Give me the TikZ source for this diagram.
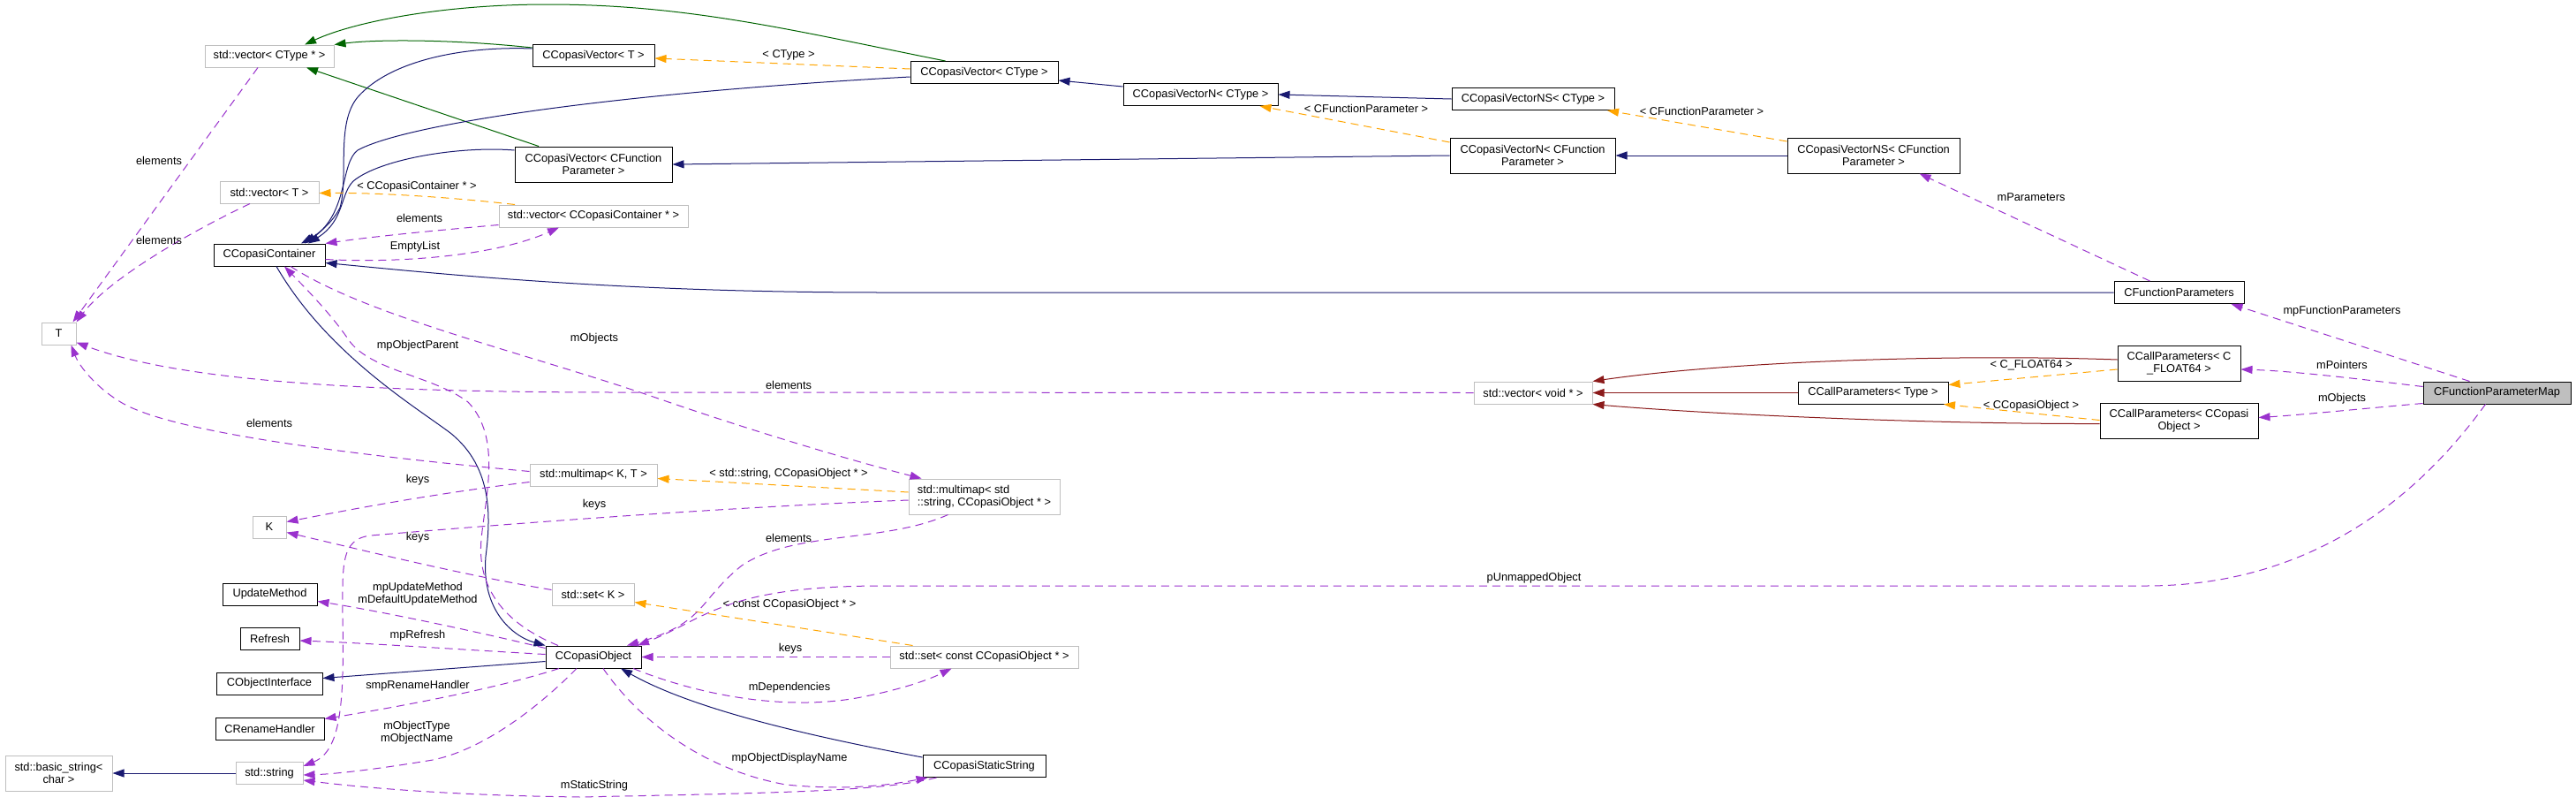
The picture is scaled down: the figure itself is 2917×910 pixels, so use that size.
\documentclass[tikz,border=0pt]{standalone}
\usepackage{fontspec}
\setmainfont{Liberation Sans}
\usepackage{xcolor}
\usepackage{tikz}
\usetikzlibrary{arrows.meta}

\definecolor{navyline}{HTML}{191970}
\definecolor{protline}{HTML}{006400}
\definecolor{privline}{HTML}{8B1A1A}
\definecolor{useline}{HTML}{9A32CD}
\definecolor{tmplline}{HTML}{FFA500}
\definecolor{boxgray}{HTML}{BFBFBF}
\newcommand{\dxfont}{\fontsize{12.8}{14}\selectfont}

\tikzset{
  cls/.style={draw=black, line width=1pt, fill=white, minimum height=25, inner xsep=0pt, inner ysep=0pt, font=\dxfont, align=center},
  ext/.style={cls, draw=boxgray},
  focus/.style={cls, fill=boxgray},
  lbl/.style={font=\dxfont, inner sep=0pt, align=center},
  tip/.style={-{Triangle[length=13pt,width=9pt]}},
  pub/.style={tip, draw=navyline, line width=1pt},
  prot/.style={tip, draw=protline, line width=1pt},
  priv/.style={tip, draw=privline, line width=1pt},
  uses/.style={tip, draw=useline, line width=1pt, dash pattern=on 9pt off 6pt},
  tmpl/.style={tip, draw=tmplline, line width=1pt, dash pattern=on 9pt off 6pt}
}

\begin{document}
\begin{tikzpicture}[x=1pt,y=-1pt]
\fill[white] (0,0) rectangle (2917,910);
\useasboundingbox (0,0) rectangle (2917,910);

\node[ext, minimum width=146] (vecCT) at (305,63.5) {std::vector< CType * >};
\node[ext, minimum width=112] (vecT) at (305,217.5) {std::vector< T >};
\node[cls, minimum width=126] (ccont) at (305,288.5) {CCopasiContainer};
\node[ext, minimum width=39] (tT) at (66.5,377.5) {T};
\node[cls, minimum width=138] (cvT) at (672,63) {CCopasiVector< T >};
\node[cls, minimum width=178, minimum height=40] (cvFP) at (672,186) {CCopasiVector< CFunction\\Parameter >};
\node[ext, minimum width=214] (vecCC) at (672,244.5) {std::vector< CCopasiContainer * >};
\node[cls, minimum width=167] (cvCT) at (1114.5,82) {CCopasiVector< CType >};
\node[cls, minimum width=175] (cvnCT) at (1359.5,107) {CCopasiVectorN< CType >};
\node[cls, minimum width=184] (cvnsCT) at (1736,112) {CCopasiVectorNS< CType >};
\node[cls, minimum width=187, minimum height=40] (cvnFP) at (1735.5,176) {CCopasiVectorN< CFunction\\Parameter >};
\node[cls, minimum width=195, minimum height=40] (cvnsFP) at (2121.5,176) {CCopasiVectorNS< CFunction\\Parameter >};
\node[cls, minimum width=147] (cfp) at (2467.5,331) {CFunctionParameters};
\node[cls, minimum width=139, minimum height=40] (cpF) at (2467.5,411) {CCallParameters< C\\\_FLOAT64 >};
\node[focus, minimum width=167] (cfpm) at (2827.5,444.5) {CFunctionParameterMap};
\node[cls, minimum width=179, minimum height=40] (cpO) at (2467.5,476.5) {CCallParameters< CCopasi\\Object >};
\node[ext, minimum width=134] (vecV) at (1736,444.5) {std::vector< void * >};
\node[cls, minimum width=170] (cpT) at (2121,444.5) {CCallParameters< Type >};
\node[ext, minimum width=38] (kK) at (305,596.5) {K};
\node[cls, minimum width=107] (upd) at (305.5,672.5) {UpdateMethod};
\node[cls, minimum width=67] (refr) at (305.5,723) {Refresh};
\node[cls, minimum width=120] (coi) at (305,773.5) {CObjectInterface};
\node[cls, minimum width=123] (cren) at (305.5,824.5) {CRenameHandler};
\node[ext, minimum width=121, minimum height=40] (bstr) at (66.5,875) {std::basic\_string<\\char >};
\node[ext, minimum width=76] (sstr) at (305,875) {std::string};
\node[ext, minimum width=144] (mmKT) at (672,537.5) {std::multimap< K, T >};
\node[ext, minimum width=93] (setK) at (671.5,672.5) {std::set< K >};
\node[cls, minimum width=108] (cobj) at (672,743.5) {CCopasiObject};
\node[ext, minimum width=171, minimum height=40, align=left] (mmSO) at (1114.5,562) {std::multimap< std\\::string, CCopasiObject * >};
\node[ext, minimum width=213] (setCO) at (1114.5,743.5) {std::set< const CCopasiObject * >};
\node[cls, minimum width=139] (css) at (1114.5,867) {CCopasiStaticString};

\draw[prot] ([xshift=-44]cvCT.north) .. controls (900,35) and (780,5) .. (620,5) .. controls (500,5) and (400,25) .. ([xshift=40]vecCT.north);
\draw[prot] ([yshift=9]cvT.west) .. controls (520,45) and (430,44) .. (vecCT.north east);
\draw[prot] ([xshift=-62]cvFP.north) -- ([xshift=42]vecCT.south);

\draw[pub] ([yshift=8]cvT.west) .. controls (520,52) and (440,70) .. (405,110) .. controls (380,140) and (395,200) .. (385,235) .. controls (375,255) and (355,268) .. ([xshift=36]ccont.north);
\draw[pub] ([yshift=-5]cvCT.west) .. controls (700,105) and (460,140) .. (405,170) .. controls (385,185) and (395,240) .. ([xshift=40]ccont.north);
\draw[pub] ([yshift=16]cvFP.west) .. controls (520,165) and (430,180) .. (400,205) .. controls (385,220) and (390,250) .. ([xshift=44]ccont.north);
\draw[pub] (cfp.west) -- (1000,331) .. controls (700,331) and (500,310) .. ([yshift=-9]ccont.east);
\draw[pub] ([xshift=8]ccont.south) .. controls (370,400) and (470,460) .. (510,490) .. controls (560,530) and (555,590) .. (550,630) .. controls (545,690) and (580,720) .. (cobj.north west);
\draw[pub] ([yshift=-5]cobj.west) -- ([yshift=6]coi.east);
\draw[pub] ([yshift=10]css.west) .. controls (900,830) and (780,800) .. ([xshift=31]cobj.south);
\draw[pub] (sstr.west) -- (bstr.east);
\draw[pub] ([yshift=9]cvnCT.west) -- ([yshift=-9]cvCT.east);
\draw[pub] (cvnsCT.west) -- (cvnCT.east);
\draw[pub] (cvnFP.west) -- (cvFP.east);
\draw[pub] (cvnsFP.west) -- (cvnFP.east);

\draw[priv] ([yshift=4]cpF.west) .. controls (2200,400) and (1950,410) .. (vecV.north east);
\draw[priv] (cpT.west) -- (vecV.east);
\draw[priv] ([yshift=-3]cpO.west) .. controls (2200,480) and (1950,470) .. (vecV.south east);

\draw[tmpl] ([yshift=4]cvCT.west) -- ([yshift=-3]cvT.east);
\node[lbl] (lCType) at (893,62) {< CType >};
\draw[tmpl] ([yshift=15]cvnFP.west) -- ([xshift=67]cvnCT.south);
\node[lbl] (lFPa) at (1547,123) {< CFunctionParameter >};
\draw[tmpl] ([yshift=16]cvnsFP.west) -- ([xshift=84]cvnsCT.south);
\node[lbl] (lFPb) at (1927,126) {< CFunctionParameter >};
\draw[tmpl] ([xshift=-89]vecCC.north) .. controls (500,222) and (420,218) .. ([yshift=-1]vecT.east);
\node[lbl] (lCC) at (472,211) {< CCopasiContainer * >};
\draw[tmpl] ([yshift=5]mmSO.west) -- ([yshift=-4]mmKT.east);
\node[lbl] (lSO) at (893,536) {< std::string, CCopasiObject * >};
\draw[tmpl] ([xshift=-81]setCO.north) -- ([yshift=-9]setK.east);
\node[lbl] (lCO) at (894,684) {< const CCopasiObject * >};
\draw[tmpl] ([yshift=-7]cpF.west) -- ([yshift=9]cpT.east);
\node[lbl] (lF64) at (2300,413) {< C\_FLOAT64 >};
\draw[tmpl] ([yshift=1]cpO.west) -- ([xshift=80]cpT.south);
\node[lbl] (lCObj) at (2300,459) {< CCopasiObject >};

\draw[uses] ([xshift=-13]vecCT.south) -- ([xshift=16]tT.north);
\node[lbl] (lel1) at (180,182) {elements};
\draw[uses] ([xshift=-22]vecT.south) .. controls (200,270) and (120,320) .. (tT.north east);
\node[lbl] (lel2) at (180,272) {elements};
\draw[uses] ([yshift=-10]vecCC.west) .. controls (480,262) and (420,268) .. (ccont.north east);
\node[lbl] (lel3) at (475,247) {elements};
\draw[uses] ([yshift=-5]ccont.east) .. controls (450,298) and (560,290) .. ([xshift=-39]vecCC.south);
\node[lbl] (lempty) at (470,279) {EmptyList};
\draw[uses] (vecV.west) -- (700,444) .. controls (400,444) and (200,430) .. ([yshift=-10]tT.east);
\node[lbl] (lel4) at (893,436) {elements};
\draw[uses] ([yshift=4]mmKT.west) .. controls (400,515) and (200,490) .. (140,457) .. controls (110,440) and (90,415) .. ([xshift=14]tT.south);
\node[lbl] (lel5) at (305,479) {elements};
\draw[uses] ([yshift=-8]mmKT.west) .. controls (480,560) and (380,580) .. ([yshift=6]kK.east);
\node[lbl] (lkey1) at (473,543) {keys};
\draw[uses] ([yshift=-4]mmSO.west) .. controls (800,575) and (550,595) .. (420,606) .. controls (385,610) and (388,640) .. (388,700) .. controls (390,800) and (385,850) .. ([yshift=8]sstr.east);
\node[lbl] (lkey2) at (673,571) {keys};
\draw[uses] ([yshift=5]setK.west) .. controls (520,650) and (400,620) .. ([yshift=-6]kK.east);
\node[lbl] (lkey3) at (473,608) {keys};
\draw[uses] (setCO.west) -- (cobj.east);
\node[lbl] (lkey4) at (895,734) {keys};
\draw[uses] ([xshift=-41]mmSO.south) .. controls (1000,615) and (900,600) .. (840,640) .. controls (790,680) and (800,705) .. ([xshift=38]cobj.north);
\node[lbl] (lel6) at (893,609) {elements};
\draw[uses] ([xshift=45]cobj.south) .. controls (800,790) and (900,805) .. (980,788) .. controls (1020,780) and (1050,770) .. ([xshift=-37]setCO.south);
\node[lbl] (ldep) at (894,778) {mDependencies};
\draw[uses] ([xshift=-13]cfpm.south) .. controls (2740,560) and (2620,663) .. (2430,663) -- (1000,663) .. controls (820,663) and (800,700) .. ([xshift=50]cobj.north);
\node[lbl] (lunm) at (1737,654) {pUnmappedObject};
\draw[uses] ([xshift=-40]cobj.north) .. controls (570,705) and (540,665) .. (545,610) .. controls (550,560) and (568,495) .. (530,455) .. controls (490,425) and (420,420) .. (395,385) .. controls (375,355) and (340,320) .. ([xshift=17]ccont.south);
\node[lbl] (lpar) at (473,391) {mpObjectParent};
\draw[uses] ([xshift=24]ccont.south) .. controls (420,360) and (600,400) .. (757,455) .. controls (860,490) and (960,520) .. ([xshift=-71]mmSO.north);
\node[lbl] (lobj1) at (673,383) {mObjects};
\draw[uses] ([yshift=-3]cobj.north west) .. controls (520,710) and (420,690) .. ([yshift=-8]upd.east);
\node[lbl] (lupd) at (473,672) {mpUpdateMethod\\mDefaultUpdateMethod};
\draw[uses] ([yshift=3]cobj.west) .. controls (520,735) and (420,728) .. ([yshift=-2]refr.east);
\node[lbl] (lref) at (473,719) {mpRefresh};
\draw[uses] ([xshift=-39]cobj.south) .. controls (560,780) and (450,800) .. ([yshift=11]cren.east);
\node[lbl] (lren) at (473,776) {smpRenameHandler};
\draw[uses] ([xshift=-19]cobj.south) .. controls (600,810) and (540,850) .. (490,860) .. controls (430,870) and (380,876) .. ([yshift=-2]sstr.east);
\node[lbl] (ltyp) at (472,829) {mObjectType\\mObjectName};
\draw[uses] ([xshift=-54]css.south) .. controls (1000,895) and (900,897) .. (657,902) .. controls (500,900) and (400,890) .. ([yshift=-8]sstr.east);
\node[lbl] (lstat) at (673,889) {mStaticString};
\draw[uses] ([xshift=11]cobj.south) .. controls (720,810) and (790,870) .. (890,888) .. controls (960,895) and (1010,888) .. ([xshift=-64]css.south);
\node[lbl] (ldisp) at (894,858) {mpObjectDisplayName};
\draw[uses] ([xshift=-31]cfpm.north) -- ([xshift=59]cfp.south);
\node[lbl] (lfpar) at (2652,352) {mpFunctionParameters};
\draw[uses] ([yshift=7]cfpm.west) .. controls (2680,430) and (2600,420) .. ([yshift=-7]cpF.east);
\node[lbl] (lptr) at (2652,413) {mPointers};
\draw[uses] ([yshift=-12]cfpm.west) .. controls (2680,462) and (2600,470) .. ([yshift=4]cpO.east);
\node[lbl] (lobj2) at (2652,451) {mObjects};
\draw[uses] ([xshift=-33]cfp.north) -- ([xshift=52]cvnsFP.south);
\node[lbl] (lpars) at (2300,223) {mParameters};
\end{tikzpicture}
\end{document}
